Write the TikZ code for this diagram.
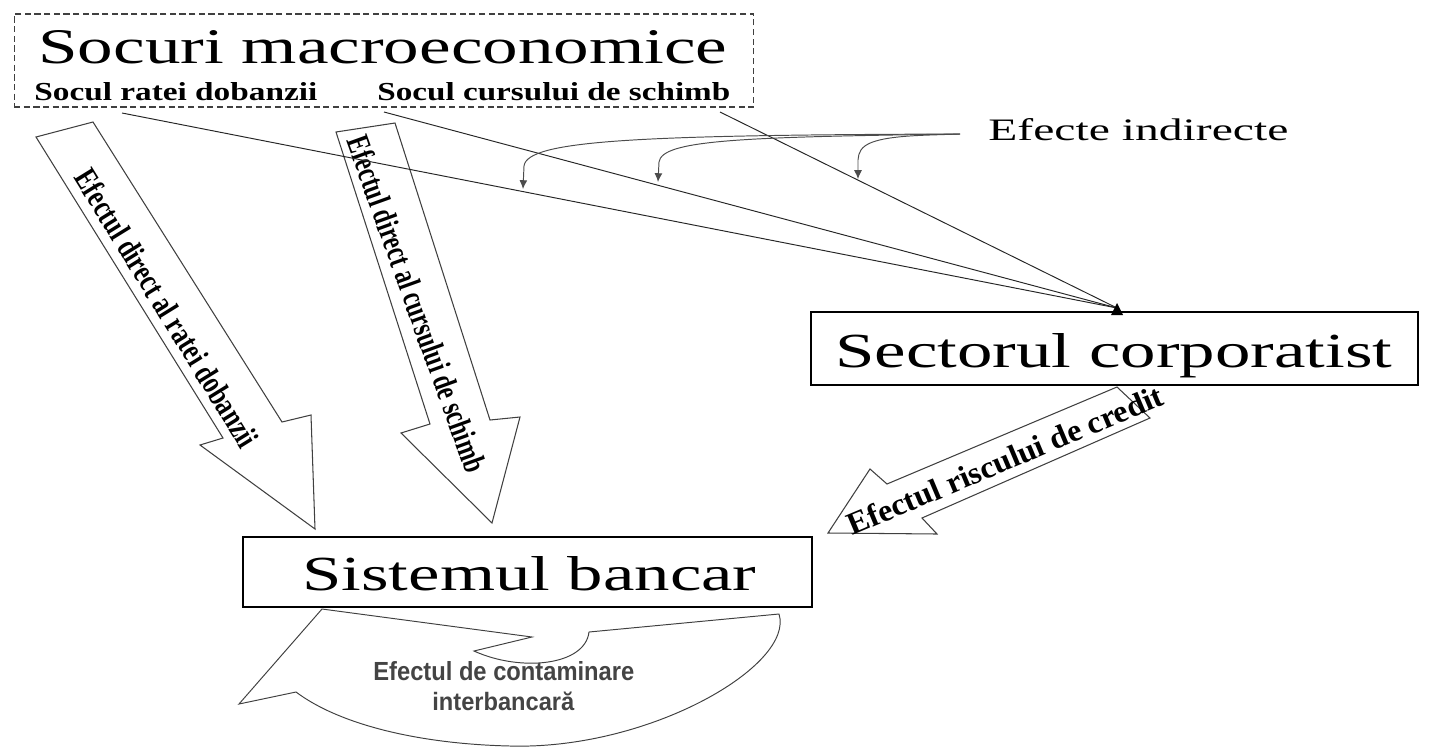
\documentclass[tikz,border=0pt]{standalone}
\usepackage{graphicx}
\usepackage{fontspec}
\setmainfont{Liberation Serif}
\newfontfamily\sansbf{Liberation Sans}
\usetikzlibrary{arrows.meta}
\definecolor{outl}{HTML}{404040}
\definecolor{txtgray}{HTML}{444444}
\begin{document}
\begin{tikzpicture}[x=0.02cm,y=-0.02cm,
  thinline/.style={line width=0.55pt, draw=black!85},
  curvearrow/.style={line width=0.55pt, draw=black!70, -{Latex[length=5pt,width=4.5pt]}},
  blockarrow/.style={line width=0.6pt, draw=outl, fill=white, line join=miter},
  solidbox/.style={draw=black, line width=1.4pt, inner sep=0pt, fill=white},
  dashbox/.style={draw=black!75, line width=0.6pt, dash pattern=on 3.5pt off 2pt, inner sep=0pt},
  lbl/.style={anchor=base west, inner sep=0pt},
  rlbl/.style={anchor=center, inner sep=0pt, font=\bfseries}
]
\useasboundingbox (0,0) rectangle (1438,748);

% ---------- top dashed box ----------
\node[dashbox, minimum width=14.8cm, minimum height=1.86cm] (macro) at (384,60.5) {};
\node[lbl] (title) at (38,63) {\resizebox{13.78cm}{0.66cm}{Socuri macroeconomice}};
\node[lbl, font=\bfseries] (sdob) at (34,100) {\resizebox{5.66cm}{0.36cm}{Socul ratei dobanzii}};
\node[lbl, font=\bfseries] (scurs) at (377,100) {\resizebox{7.06cm}{0.36cm}{Socul cursului de schimb}};

% ---------- boxes ----------
\node[solidbox, minimum width=12.14cm, minimum height=1.46cm] (corp) at (1114.5,348.5) {};
\node[lbl] (corptxt) at (835,367) {\resizebox{11.14cm}{0.68cm}{Sectorul corporatist}};

% ---------- block arrows ----------
\draw[blockarrow] (36,137) -- (93,122) -- (282,422) -- (311,415) -- (315,529)
   -- (200,445) -- (223,438) -- cycle;
\draw[blockarrow] (336,132) -- (395,123) -- (490,420) -- (520,417) -- (492,523)
   -- (401,433) -- (430,424) -- cycle;
\draw[blockarrow] (1117,387) -- (1150,418) -- (922,518) -- (937,534) -- (828,533)
   -- (870,469) -- (887,484) -- cycle;

\node[rlbl, rotate=-58.3] (t1) at (167,308) {\resizebox{6.4cm}{0.46cm}{Efectul direct al ratei dobanzii}};
\node[rlbl, rotate=-70.2] (t2) at (417,304) {\resizebox{7.1cm}{0.46cm}{Efectul direct al cursului de schimb}};
\node[rlbl, rotate=22.8] (t3) at (1005,460) {\resizebox{6.8cm}{0.44cm}{Efectul riscului de credit}};

% ---------- bank box ----------
\node[solidbox, minimum width=11.38cm, minimum height=1.4cm] (banc) at (527.5,572) {};
\node[lbl] (banctxt) at (302,590) {\resizebox{9.08cm}{0.68cm}{Sistemul bancar}};

% ---------- contamination arrow ----------
\draw[blockarrow, line width=0.55pt] (322,609) -- (532,637) -- (474,651)
   .. controls (520,672) and (585,666) .. (589,632)
   -- (779,614)
   .. controls (795,665) and (650,750) .. (510,746)
   .. controls (420,744) and (340,725) .. (296,692)
   -- (239,704) -- cycle;
\node[lbl, text=txtgray] (cont1) at (373,680) {\resizebox{5.22cm}{0.38cm}{\sansbf\bfseries Efectul de contaminare}};
\node[lbl, text=txtgray] (cont2) at (432,710) {\resizebox{2.84cm}{0.37cm}{\sansbf\bfseries interbancară}};

% ---------- indirect effect lines ----------
\coordinate (s1) at (122,113);
\coordinate (s2) at (384,112);
\coordinate (s3) at (720,112);
\coordinate (conv) at (1117,308);
\draw[thinline] (s1) -- (conv);
\draw[thinline] (s2) -- (conv);
\draw[thinline] (s3) -- (conv);
\fill (1111,315) -- (1123,315) -- (1117,303) -- cycle;

\node[lbl] (ei) at (988,140) {\resizebox{6.0cm}{0.44cm}{Efecte indirecte}};
\coordinate (eistart) at (960,134);
\coordinate (t1end) at (523,189);
\coordinate (t2end) at (658,182);
\coordinate (t3end) at (858,179);
\draw[curvearrow] (eistart) .. controls (640,135) and (527,140) .. (524,166) -- (t1end);
\draw[curvearrow] (eistart) .. controls (740,137) and (662,140) .. (659,162) -- (t2end);
\draw[curvearrow] (eistart) -- (930,135) .. controls (868,137) and (859,145) .. (858,160) -- (t3end);
\end{tikzpicture}
\end{document}
